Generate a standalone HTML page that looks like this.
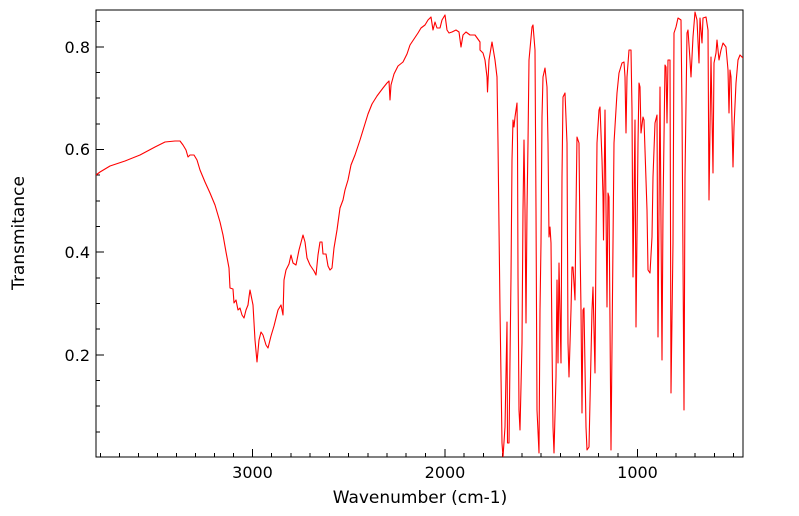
<!DOCTYPE html>
<html><head><meta charset="utf-8"><style>
html,body{margin:0;padding:0;background:#fff;}
svg{display:block;font-family:"DejaVu Sans","Liberation Sans",sans-serif;}
</style></head><body>
<svg width="799" height="516" viewBox="0 0 799 516">
<defs><clipPath id="c"><rect x="96" y="10" width="647" height="447"/></clipPath></defs>
<rect x="96" y="10" width="647" height="447" fill="none" stroke="#000" stroke-width="1"/>
<g stroke="#000" stroke-width="1">
<!-- x major ticks -->
<line x1="252.5" y1="457" x2="252.5" y2="449"/>
<line x1="445" y1="457" x2="445" y2="449"/>
<line x1="637.5" y1="457" x2="637.5" y2="449"/>
<!-- x minor -->
<g id="xm">
<line x1="100.5" y1="457" x2="100.5" y2="453"/><line x1="119.5" y1="457" x2="119.5" y2="453"/><line x1="138.5" y1="457" x2="138.5" y2="453"/><line x1="157.5" y1="457" x2="157.5" y2="453"/><line x1="176.5" y1="457" x2="176.5" y2="453"/><line x1="195.5" y1="457" x2="195.5" y2="453"/><line x1="214.5" y1="457" x2="214.5" y2="453"/><line x1="233.5" y1="457" x2="233.5" y2="453"/>
<line x1="271.5" y1="457" x2="271.5" y2="453"/><line x1="291" y1="457" x2="291" y2="453"/><line x1="310" y1="457" x2="310" y2="453"/><line x1="329.5" y1="457" x2="329.5" y2="453"/><line x1="348.5" y1="457" x2="348.5" y2="453"/><line x1="368" y1="457" x2="368" y2="453"/><line x1="387" y1="457" x2="387" y2="453"/><line x1="406" y1="457" x2="406" y2="453"/><line x1="425.5" y1="457" x2="425.5" y2="453"/>
<line x1="464" y1="457" x2="464" y2="453"/><line x1="483.5" y1="457" x2="483.5" y2="453"/><line x1="502.5" y1="457" x2="502.5" y2="453"/><line x1="522" y1="457" x2="522" y2="453"/><line x1="541" y1="457" x2="541" y2="453"/><line x1="560.5" y1="457" x2="560.5" y2="453"/><line x1="579.5" y1="457" x2="579.5" y2="453"/><line x1="598.5" y1="457" x2="598.5" y2="453"/><line x1="618" y1="457" x2="618" y2="453"/>
<line x1="656.5" y1="457" x2="656.5" y2="453"/><line x1="676" y1="457" x2="676" y2="453"/><line x1="695" y1="457" x2="695" y2="453"/><line x1="714.5" y1="457" x2="714.5" y2="453"/><line x1="733.5" y1="457" x2="733.5" y2="453"/>
</g>
<!-- y major -->
<line x1="96" y1="47" x2="104" y2="47"/><line x1="96" y1="149.5" x2="104" y2="149.5"/><line x1="96" y1="252" x2="104" y2="252"/><line x1="96" y1="355" x2="104" y2="355"/>
<!-- y minor -->
<line x1="96" y1="21.5" x2="100" y2="21.5"/><line x1="96" y1="72.5" x2="100" y2="72.5"/><line x1="96" y1="98" x2="100" y2="98"/><line x1="96" y1="124" x2="100" y2="124"/><line x1="96" y1="175" x2="100" y2="175"/><line x1="96" y1="201" x2="100" y2="201"/><line x1="96" y1="226.5" x2="100" y2="226.5"/><line x1="96" y1="278" x2="100" y2="278"/><line x1="96" y1="303.5" x2="100" y2="303.5"/><line x1="96" y1="329" x2="100" y2="329"/><line x1="96" y1="380.5" x2="100" y2="380.5"/><line x1="96" y1="406" x2="100" y2="406"/><line x1="96" y1="432" x2="100" y2="432"/>
</g>
<g font-size="16" fill="#000">
<text x="90" y="53" text-anchor="end">0.8</text>
<text x="90" y="155" text-anchor="end">0.6</text>
<text x="90" y="258" text-anchor="end">0.4</text>
<text x="90" y="361" text-anchor="end">0.2</text>
<text x="252.5" y="478" text-anchor="middle">3000</text>
<text x="445" y="478" text-anchor="middle">2000</text>
<text x="637.5" y="478" text-anchor="middle">1000</text>
<text x="420" y="503" text-anchor="middle" font-size="17">Wavenumber (cm-1)</text>
<text transform="translate(24,233) rotate(-90)" text-anchor="middle" font-size="17">Transmitance</text>
</g>
<polyline clip-path="url(#c)" fill="none" stroke="#ff0000" stroke-width="1.1" stroke-linejoin="round" points="
96,175 100,172 110,166 125,161 140,155 155,147 165,142 175,141 180,141 183,145 186,150 188,157 190,155 194,155 197,160 200,170 205,182 210,193 215,205 220,222 223,235 226,252 229,268 230,288 233,289 234,303 236,300 238,310 240,308 242,315 244,318 246,310 248,305 249,297 250,290 251,295 253,305 255,340 257,362 259,340 261,332 263,335 266,345 268,348 271,336 274,326 278,310 281,305 283,315 284,280 286,270 289,264 291,255 293,263 296,265 299,250 303,235 305,242 307,258 310,265 314,271 316,275 318,255 320,242 322,242 323,254 326,254 328,266 330,270 332,268 334,248 337,230 340,208 343,200 345,190 348,180 351,165 355,155 360,140 364,127 368,114 372,104 377,96 383,88 387,83 389,81 390,100 391,85 394,74 398,66 403,62 407,54 410,45 414,39 418,33 421,28 425,25 428,20 431,17 433,30 435,22 437,28 440,28 442,20 445,15 447,30 449,33 452,32 456,30 459,32 461,47 463,35 466,32 470,35 475,35 480,42
480,50 483,53 485,60 487,77 487.5,92 489,60 492,42 495,60 497,77 498,143 500,310 502,443 503,457 505,427 507,322 507.5,443 509,443 511,277 512,160 513,120 514,127 515,117 517,103 517.5,143 518,277 519,410 520,430 522,343 523,210 524,140 525,210 526,323 527,210 528,143 529,60 532,27 533,25 535,50 536,210 537,410 539,453 540,310 541,243 542,117 543,77 545,68 547,87 548,143 549,237 550,227 551,243 552,343 553,427 554,453 556,377 557,280 558,363 559,263 561,363 562,177 563,97 565,93 567,143 568,343 569,377 571,310 572,267 573,267 575,300 576,210 577,137 579,143 580,243 581,310 582,413 583,310 584,308 586,427 587,450 589,447 592,310 593,287 595,373 596,243 597,143 599,110 600,107 602,160 603,197 603.5,240 605,110 607,307 608,193 609,197 611,450 613,243 614,143 617,93 619,73 622,63 624,62 625,77 626,133 627,77 629,50 631,50 632,110 633,277 635,120 636,327 638,143 639,83 640,87 641,133 643,117 644,120 647,210 648,270 650,273 652,237 653,177 655,123 657,115 658,337 660,87 662,360 663,210 665,65 666,67 667,123 668,60 670,60 671,393 673,243 674,33 676,27 678,18 681,20 682,110 684,410 685,177 687,33 688,30 690,60 691,77 693,37 695,12 697,20 699,63 700,18 702,43 703,18 706,17 708,30 709,200 711,57 713,173 714,63 716,53 717,40 719,60 721,50 723,43 726,47 728,70 729,113 730,70 731,77 733,167 734,127 736,83 738,60 740,55 743,58"/>
</svg>
</body></html>
